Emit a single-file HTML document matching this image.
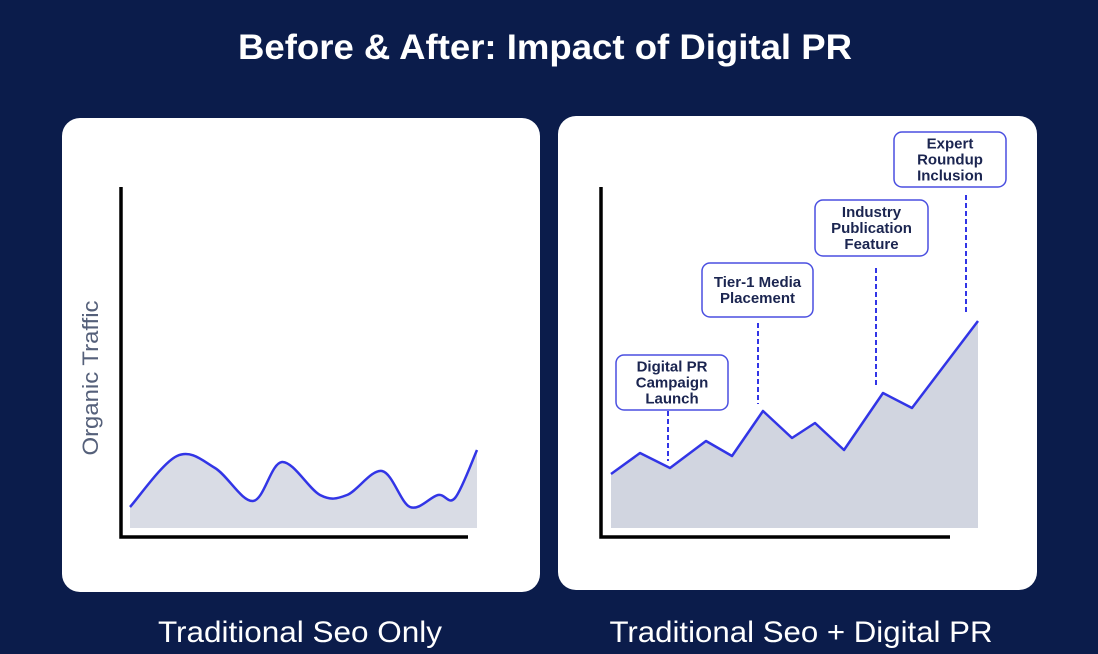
<!DOCTYPE html>
<html><head><meta charset="utf-8"><style>
html,body{margin:0;padding:0;width:1098px;height:654px;overflow:hidden;background:#0b1c4b;font-family:"Liberation Sans",sans-serif}
</style></head><body>
<svg width="1098" height="654" viewBox="0 0 1098 654" xmlns="http://www.w3.org/2000/svg">
<text x="545" y="59" text-anchor="middle" fill="#fff" font-size="35" font-weight="bold" font-family="Liberation Sans, sans-serif" textLength="614" lengthAdjust="spacingAndGlyphs">Before &amp; After: Impact of Digital PR</text>
<rect x="62" y="118" width="478" height="474" rx="18" fill="#fff"/>
<rect x="558" y="116" width="479" height="474" rx="18" fill="#fff"/>
<g id="left"></g>
<g id="right"></g>
<text transform="translate(98,378) rotate(-90)" text-anchor="middle" fill="#55607a" font-size="22" font-family="Liberation Sans, sans-serif" textLength="155" lengthAdjust="spacingAndGlyphs">Organic Traffic</text>
<text x="300" y="642" text-anchor="middle" fill="#fff" font-size="30" font-family="Liberation Sans, sans-serif" textLength="284" lengthAdjust="spacingAndGlyphs">Traditional Seo Only</text>
<text x="801" y="642" text-anchor="middle" fill="#fff" font-size="30" font-family="Liberation Sans, sans-serif" textLength="383" lengthAdjust="spacingAndGlyphs">Traditional Seo + Digital PR</text>
</svg>
<script>
const leftX = [130,177,215,253,282,320,347,382,410,438,455,477];
const leftValues = [7,24,20,9,22,11,11,19,7,11,10,26];
const rightX = [611,640,670,706,732,763,792,815,844,883,912,978];
const rightValues = [18,25,20,29,24,39,30,35,26,45,40,69];
const annotationLabels = [["Digital PR","Campaign","Launch"],["Tier-1 Media","Placement"],["Industry","Publication","Feature"],["Expert","Roundup","Inclusion"]];
const annotationIndex = [2,5,9,11];
const NS="http://www.w3.org/2000/svg";
const base=528;
function yScale(v){return base - v*3;}
function mk(tag,attrs,parent){const e=document.createElementNS(NS,tag);for(const k in attrs)e.setAttribute(k,attrs[k]);parent.appendChild(e);return e;}
function smooth(pts){let d=`M${pts[0][0]},${pts[0][1]}`;for(let i=0;i<pts.length-1;i++){const p0=pts[i-1]||pts[i],p1=pts[i],p2=pts[i+1],p3=pts[i+2]||p2;const c1=[p1[0]+(p2[0]-p0[0])/6,p1[1]+(p2[1]-p0[1])/6],c2=[p2[0]-(p3[0]-p1[0])/6,p2[1]-(p3[1]-p1[1])/6];d+=` C${c1[0]},${c1[1]} ${c2[0]},${c2[1]} ${p2[0]},${p2[1]}`;}return d;}
function linear(pts){return 'M'+pts.map(p=>p.join(',')).join(' L');}
function draw(g,xs,vals,sm,axX,axEnd){
 const pts=xs.map((x,i)=>[x,yScale(vals[i])]);
 const line=sm?smooth(pts):linear(pts);
 const area=mk('path',{d:line+` L${pts[pts.length-1][0]},${base} L${pts[0][0]},${base} Z`,fill:sm?'#d9dce5':'#d1d5e0'},g);
 
 
 const l=mk('path',{d:line,fill:'none',stroke:'#3235e6','stroke-width':2.5,'stroke-linejoin':'round'},g);
 
 
 const ax=mk('path',{d:`M${axX},187 L${axX},537 L${axEnd},537`,fill:'none',stroke:'#000','stroke-width':3.5},g);
 
 
 return pts;
}
draw(document.getElementById('left'),leftX,leftValues,true,121,468);
const rg=document.getElementById('right');
const rp=draw(rg,rightX,rightValues,false,601,950);
const boxes=[[616,355,112,55,668,411],[702,263,111,54,758,323],[815,200,113,56,876,268],[894,132,112,55,966,195]];
annotationLabels.forEach((lines,i)=>{
 const b=boxes[i];const p=rp[annotationIndex[i]];
 const dash=mk('line',{x1:b[4],y1:b[5],x2:b[4],y2:p[1]-7,stroke:'#3235e6','stroke-width':2,'stroke-dasharray':'5,3'},rg);
 
 
 const r=mk('rect',{x:b[0],y:b[1],width:b[2],height:b[3],rx:8,fill:'#fff',stroke:'#4a4fe0','stroke-width':1.5},rg);
 
 
 const cy=b[1]+b[3]/2, n=lines.length;
 lines.forEach((t,j)=>{
  const tx=mk('text',{x:b[0]+b[2]/2,y:cy+(j-(n-1)/2)*16+5,'text-anchor':'middle',fill:'#1b2550','font-size':15,'font-weight':'bold','font-family':'Liberation Sans, sans-serif'},rg);
  tx.textContent=t;
  
  
 });
});
</script>
</body></html>
